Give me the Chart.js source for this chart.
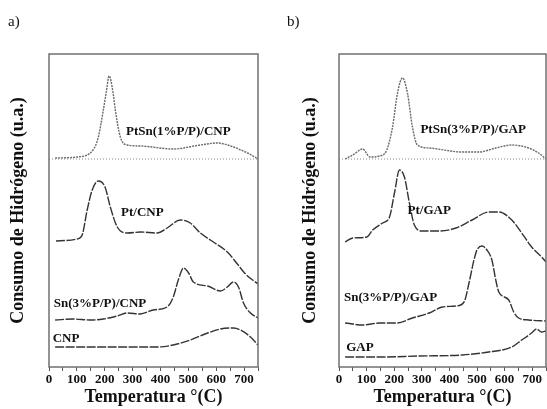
<!DOCTYPE html>
<html>
<head>
<meta charset="utf-8">
<script src="https://cdn.jsdelivr.net/npm/chart.js@4.4.1/dist/chart.umd.min.js"></script>
<style>
  body { margin: 0; background: #fff; }
  #wrap { position: relative; width: 547px; height: 409px; overflow: hidden; }
  .panel { position: absolute; top: 0; height: 409px; }
  #panelA { left: 0; width: 270px; }
  #panelB { left: 270px; width: 277px; }
</style>
</head>
<body>
<div id="wrap">
  <div class="panel" id="panelA"><canvas id="chartA"></canvas></div>
  <div class="panel" id="panelB"><canvas id="chartB"></canvas></div>
</div>
<script>
// x tick values (Temperatura, C)
const xTicks = [0, 100, 200, 300, 400, 500, 600, 700];

// dotted zero line of the top curve (same in both panels)
const tBase = [0, 750];
const base = [208, 208];

// ---- panel a) ----
const tPtSnCNP = [22, 101, 158, 177, 195, 205, 216, 230, 238, 256, 281, 328, 446, 543, 604, 662, 712, 750];
const ptSnCNP  = [209, 210, 217, 230, 257, 274, 291, 274, 257, 230, 222, 221, 218, 222, 224, 220, 214, 208];

const tPtCNP = [25, 101, 119, 137, 155, 177, 201, 220, 245, 281, 328, 388, 424, 471, 507, 543, 590, 640, 676, 705, 750];
const ptCNP  = [126, 128, 132, 157, 177, 186, 180, 160, 140, 134, 135, 134, 139, 147, 144, 134, 125, 115, 103, 93, 83];

const tSnCNP = [22, 87, 148, 195, 245, 281, 328, 374, 424, 446, 464, 483, 501, 518, 569, 615, 640, 662, 680, 698, 723, 750];
const snCNP  = [47, 48, 47, 48, 51, 54, 53, 57, 60, 70, 87, 99, 94, 85, 81, 76, 80, 85, 80, 64, 54, 49];

const tCNP = [22, 148, 267, 388, 446, 507, 569, 615, 662, 687, 723, 750];
const cnp  = [20, 20, 20, 20, 22, 27, 34, 38, 39, 37, 30, 22];

// ---- panel b) ----
const tPtSnGAP = [22, 50, 86, 112, 147, 173, 194, 212, 230, 248, 266, 284, 327, 446, 507, 568, 626, 687, 723, 750];
const ptSnGAP  = [208, 212, 218, 210, 211, 217, 240, 274, 289, 274, 240, 222, 219, 215, 215, 219, 222, 219, 214, 208];

const tPtGAP = [22, 50, 101, 122, 158, 183, 201, 219, 237, 255, 273, 302, 363, 424, 482, 543, 579, 626, 662, 698, 734, 750];
const ptGAP  = [125, 129, 130, 137, 144, 150, 174, 197, 190, 164, 142, 136, 136, 139, 147, 155, 155, 147, 134, 120, 110, 105];

const tSnGAP = [22, 86, 147, 209, 266, 327, 374, 424, 453, 471, 489, 500, 518, 536, 554, 568, 579, 615, 633, 651, 687, 750];
const snGAP  = [44, 42, 44, 44, 49, 54, 60, 61, 65, 84, 107, 117, 121, 117, 107, 87, 75, 67, 55, 49, 47, 46];

const tGAP = [22, 147, 291, 446, 543, 626, 662, 698, 716, 734, 750];
const gap  = [10, 10, 11, 12, 15, 20, 27, 34, 38, 35, 36];

const SERIF = "'Liberation Serif', 'Times New Roman', serif";

function pts(xs, ys) {
    return xs.map(function (x, i) { return { x: x, y: ys[i] }; });
}

function curve(xs, ys, color, dash) {
    return {
        data: pts(xs, ys),
        borderColor: color,
        borderWidth: 1.4,
        borderDash: dash,
        pointRadius: 0,
        cubicInterpolationMode: 'monotone',
        fill: false
    };
}

// frame + curve names + panel letter
const panelText = {
    id: 'panelText',
    afterDatasetsDraw: function (chart, args, opts) {
        const ctx = chart.ctx;
        const a = chart.chartArea;
        const xs = chart.scales.x, ys = chart.scales.y;
        ctx.save();
        ctx.strokeStyle = '#707070';
        ctx.lineWidth = 1.5;
        ctx.strokeRect(a.left, a.top, a.right - a.left, a.bottom - a.top);

        ctx.fillStyle = '#111';
        ctx.font = '15px ' + SERIF;
        ctx.textBaseline = 'middle';
        ctx.textAlign = 'left';
        ctx.fillText(opts.tag, opts.tagX, 22);

        ctx.font = 'bold 13px ' + SERIF;
        ctx.textAlign = 'center';
        opts.labels.forEach(function (l) {
            ctx.fillText(l.text, xs.getPixelForValue(l.t), ys.getPixelForValue(l.v));
        });
        ctx.restore();
    }
};

function makePanel(canvasId, sets, tag, tagX, labels, padLeft, padRight, yWidth) {
    return new Chart(document.getElementById(canvasId), {
        type: 'line',
        data: { datasets: sets },
        options: {
            responsive: true,
            maintainAspectRatio: false,
            animation: false,
            layout: { padding: { left: padLeft, right: padRight, top: 54, bottom: 0 } },
            plugins: {
                legend: { display: false },
                tooltip: { enabled: false },
                panelText: { tag: tag, tagX: tagX, labels: labels }
            },
            scales: {
                x: {
                    type: 'linear',
                    min: 0,
                    max: 750,
                    afterBuildTicks: function (scale) {
                        const t = [];
                        for (let v = 0; v <= 750; v += 50) t.push({ value: v });
                        scale.ticks = t;
                    },
                    afterFit: function (scale) { scale.height = 42; },
                    ticks: {
                        autoSkip: false,
                        maxRotation: 0,
                        padding: 1,
                        color: '#111',
                        font: { family: SERIF, size: 13, weight: 'bold' },
                        callback: function (v) { return xTicks.indexOf(v) >= 0 ? String(v) : ''; }
                    },
                    grid: { drawOnChartArea: false, drawTicks: true, tickLength: 4, color: '#555' },
                    border: { display: false },
                    title: {
                        display: true,
                        text: 'Temperatura °(C)',
                        color: '#111',
                        font: { family: SERIF, size: 18, weight: 'bold' },
                        padding: { top: 0, bottom: 1 }
                    }
                },
                y: {
                    min: 0,
                    max: 313,
                    afterFit: function (scale) { scale.width = yWidth; },
                    ticks: { display: false },
                    grid: { display: false },
                    border: { display: false },
                    title: {
                        display: true,
                        text: 'Consumo de Hidrógeno (u.a.)',
                        color: '#111',
                        font: { family: SERIF, size: 18, weight: 'bold' },
                        padding: { top: 8, bottom: 0 }
                    }
                }
            }
        },
        plugins: [panelText]
    });
}

const dark = '#333';
const light = '#6a6a6a';
const dashDark = [9, 1.5];
const dashLight = [2, 1];

makePanel('chartA', [
    { data: pts(tBase, base), borderColor: '#888', borderWidth: 1, borderDash: [1, 2], pointRadius: 0 },
    curve(tPtSnCNP, ptSnCNP, light, dashLight),
    curve(tPtCNP, ptCNP, dark, dashDark),
    curve(tSnCNP, snCNP, dark, dashDark),
    curve(tCNP, cnp, dark, dashDark)
], 'a)', 8, [
    { text: 'PtSn(1%P/P)/CNP', t: 464, v: 235 },
    { text: 'Pt/CNP', t: 335, v: 154 },
    { text: 'Sn(3%P/P)/CNP', t: 183, v: 63 },
    { text: 'CNP', t: 61, v: 28 }
], 0, 12, 49);

makePanel('chartB', [
    { data: pts(tBase, base), borderColor: '#888', borderWidth: 1, borderDash: [1, 2], pointRadius: 0 },
    curve(tPtSnGAP, ptSnGAP, light, dashLight),
    curve(tPtGAP, ptGAP, dark, dashDark),
    curve(tSnGAP, snGAP, dark, dashDark),
    curve(tGAP, gap, dark, dashDark)
], 'b)', 17, [
    { text: 'PtSn(3%P/P)/GAP', t: 486, v: 237 },
    { text: 'Pt/GAP', t: 327, v: 156 },
    { text: 'Sn(3%P/P)/GAP', t: 187, v: 69 },
    { text: 'GAP', t: 76, v: 19 }
], 22, 0, 47);
</script>
</body>
</html>
